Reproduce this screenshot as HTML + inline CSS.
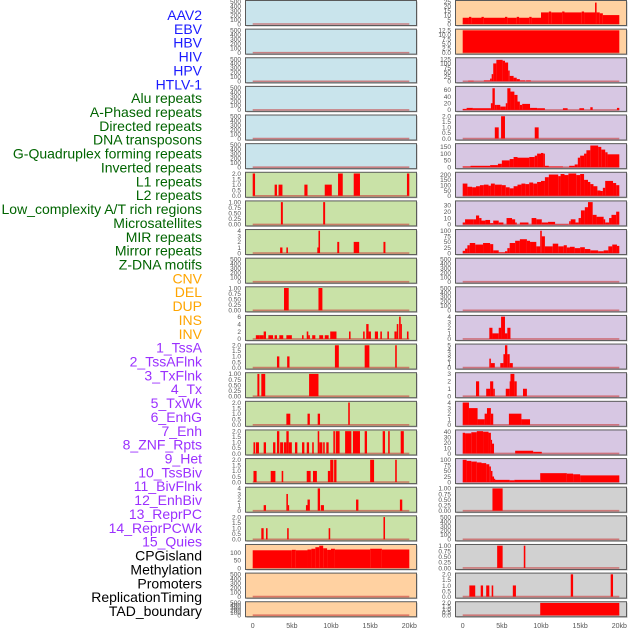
<!DOCTYPE html>
<html><head><meta charset="utf-8">
<style>
body{margin:0;background:#fff;width:630px;height:630px;overflow:hidden;font-family:"Liberation Sans",sans-serif}
svg{display:block}
</style></head>
<body>
<svg id="chart" width="630" height="630" viewBox="0 0 630 630" xmlns="http://www.w3.org/2000/svg"></svg>
<script>
// ---- labels ----
const labelNames = ["AAV2","EBV","HBV","HIV","HPV","HTLV-1","Alu repeats","A-Phased repeats","Directed repeats","DNA transposons","G-Quadruplex forming repeats","Inverted repeats","L1 repeats","L2 repeats","Low_complexity A/T rich regions","Microsatellites","MIR repeats","Mirror repeats","Z-DNA motifs","CNV","DEL","DUP","INS","INV","1_TssA","2_TssAFlnk","3_TxFlnk","4_Tx","5_TxWk","6_EnhG","7_Enh","8_ZNF_Rpts","9_Het","10_TssBiv","11_BivFlnk","12_EnhBiv","13_ReprPC","14_ReprPCWk","15_Quies","CPGisland","Methylation","Promoters","ReplicationTiming","TAD_boundary"];
const labelColors = ["#1a1aff","#006400","#ffa500","#9b30ff","#000000"];
const labelGroups = [6,13,5,15,5];

// ---- x axis ----
const xTicks = [0,5,10,15,20];
const xTickLabels = ["0","5kb","10kb","15kb","20kb"];

// ---- tracks: [startKb, endKb, value] ----
const L6 = [[0,0.3,2],[2.8,3.1,1],[3.3,3.8,1],[6.6,7,1],[9.2,10.1,1],[10.9,11.5,2],[12.9,13.7,2],[19.7,20,2]];
const L7 = [[3.6,3.85,1],[9.0,9.25,1]];
const L8 = [[3.5,3.8,1],[4.3,4.5,1],[8.25,8.4,1],[8.4,8.6,4],[10.8,11.05,2],[12.9,13.6,2],[16.7,16.95,2]];
const L10 = [[4.0,4.6,1],[8.4,8.9,1]];
const L11 = [[0.4,0.9,1],[0.9,1.4,1],[1.4,1.7,2],[2.0,2.6,1],[2.8,3.1,1],[3.4,3.9,1],[4.3,5.0,1],[6.3,6.5,1],[6.9,7.1,2],[7.1,7.3,1],[7.6,8.0,1],[8.5,9.0,1],[9.2,9.7,1],[9.9,10.7,2],[12.3,12.5,2],[14.1,14.3,2],[14.5,14.8,4],[14.8,15.1,2],[15.6,16.0,2],[16.3,16.5,2],[17.2,17.4,2],[18.1,18.4,2],[18.4,18.6,4],[18.7,18.9,6],[18.9,19.05,4],[19.7,19.9,2]];
const L12 = [[3.1,3.4,1],[4.4,4.7,1],[10.5,11.0,2],[14.3,14.9,2],[18.2,18.4,2]];
const L13 = [[0.6,0.85,1],[1.1,1.6,1],[7.2,8.4,1]];
const L14 = [[4.3,4.8,1],[7.0,7.3,1],[8.3,8.6,1],[12.2,12.4,2]];
const L15 = [[0.1,0.3,1],[0.4,0.8,1],[1.4,1.7,1],[2.6,2.9,1],[3.1,3.4,2],[3.5,3.9,1],[4.0,4.3,1],[4.3,4.6,2],[4.6,5.0,1],[5.4,5.7,1],[6.3,6.6,1],[6.9,7.2,1],[7.6,7.8,1],[8.3,8.5,2],[8.5,8.9,1],[9.0,9.2,1],[9.4,9.7,1],[10.3,10.5,2],[10.6,11.1,2],[11.8,12.6,2],[12.8,13.7,2],[14.3,14.6,2],[16.6,16.9,2],[17.3,17.5,2],[18.9,19.3,2]];
const L16 = [[0.1,0.5,1],[2.3,2.9,1],[3.7,3.9,1],[6.9,7.4,1],[7.7,8.2,1],[9.6,9.9,1],[9.9,10.3,2],[10.4,10.7,2],[15.0,15.5,2],[18.2,18.4,2]];
const L17 = [[1.4,1.7,1],[4.3,4.5,3],[4.5,4.6,1],[6.8,7.0,1],[7.0,7.3,2],[8.3,8.6,4],[8.7,9.1,1],[13.2,13.5,2],[18.8,19.1,2]];
const L18 = [[1.1,1.4,1],[1.7,1.9,1],[4.4,4.6,1],[9.7,9.9,1],[16.7,16.9,2]];
const L19 = [[0,5,115],[5,5.5,118],[5.5,7,115],[7,7.5,120],[7.5,8,125],[8,8.5,135],[8.5,9,145],[9,9.5,128],[9.5,10,118],[10,10.5,125],[10.5,15,120],[15,16.5,125],[16.5,20,120]];
const R0 = [[0,0.8,7],[0.8,1.1,8],[1.1,2.4,7],[2.4,2.7,8],[2.7,5.4,7],[5.4,5.7,8],[5.7,6.9,7],[6.9,7.2,8],[7.2,8.5,7],[8.5,8.8,8],[8.8,10,7],[10,11,13],[11,11.3,14],[11.3,12.7,13],[12.7,13,14],[13,15.2,13],[15.2,15.5,14],[15.5,16.9,13],[16.9,17.1,24],[17.1,17.5,13],[17.5,17.9,12],[17.9,20,10]];
const R1 = [[0,20,12.5]];
const R2 = [[0.7,1.4,3],[2.7,3.5,5],[3.5,3.7,15],[3.7,3.9,40],[3.9,4.3,100],[4.3,5.1,120],[5.1,5.4,115],[5.4,5.8,105],[5.8,6.0,60],[6.0,6.5,30],[6.5,6.9,20],[6.9,7.3,12],[7.3,8.0,5],[8.1,8.7,5]];
const R3 = [[0,0.5,3],[0.5,1.3,6],[1.3,3.6,5],[3.6,3.8,20],[3.8,4.1,65],[4.1,4.3,15],[4.3,4.8,15],[4.8,5.5,10],[5.5,5.7,20],[5.7,6.1,65],[6.1,6.6,55],[6.6,7.0,45],[7.0,7.3,25],[7.3,7.6,15],[7.6,8.6,18],[8.6,9.5,6],[9.5,10.5,5],[12.8,13.4,5],[14.9,15.5,5],[16.3,16.6,8],[19.7,20,6]];
const R4 = [[4.1,4.6,1],[4.9,5.4,2],[9.2,9.7,1]];
const R5 = [[0,1,5],[1,3.5,10],[3.5,4.5,15],[4.5,5,25],[5,6,50],[6,6.5,60],[6.5,7,75],[7,8.5,70],[8.5,9.2,75],[9.2,9.5,85],[9.5,10,100],[10,10.3,105],[10.3,10.5,100],[10.5,11,10],[11,12.8,5],[13.6,14.3,10],[14.3,14.7,20],[14.7,15,70],[15,15.5,85],[15.5,15.8,100],[15.8,16.3,125],[16.3,17.3,160],[17.3,17.7,150],[17.7,18.2,130],[18.2,18.5,110],[18.5,20,95]];
const R6 = [[0,0.6,115],[0.6,1.2,85],[1.2,1.7,80],[1.7,2.2,90],[2.2,2.7,100],[2.7,3.3,105],[3.3,3.6,95],[3.6,4.1,115],[4.1,5.0,105],[5.0,5.5,100],[5.5,6.0,80],[6.0,6.5,70],[6.5,7,90],[7,7.5,105],[7.5,8,115],[8,8.5,110],[8.5,9,125],[9,9.5,115],[9.5,10,130],[10,10.5,140],[10.5,11,175],[11,12.2,200],[12.2,12.5,185],[12.5,13,205],[13,13.5,195],[13.5,14.5,210],[14.5,15,195],[15,15.5,205],[15.5,16,150],[16,16.3,130],[16.3,16.7,110],[16.7,17.2,90],[17.2,17.6,50],[17.6,17.9,45],[17.9,18.2,75],[18.2,19.2,140],[19.2,19.6,120],[19.6,20,100]];
const R7 = [[0,0.3,3],[0.3,1.4,8],[1.4,1.7,8],[1.7,2.1,14],[2.1,2.4,10],[2.4,2.9,6],[2.9,3.5,7],[3.5,3.9,2],[3.9,4.6,6],[4.6,5.2,3],[5.6,6.3,10],[6.3,6.7,8],[6.7,6.9,3],[7.3,8.4,3],[8.8,9.4,10],[9.4,10.1,8],[10.1,10.9,3],[10.9,11.8,4],[11.8,13.5,0.5],[13.6,13.8,5],[13.8,14.4,8],[14.4,14.8,3],[14.8,15.1,10],[15.1,15.6,22],[15.6,16.0,27],[16.0,16.6,35],[16.6,17.1,15],[17.1,18.0,12],[18.0,18.2,8],[18.2,18.7,3],[18.7,19.0,10],[19.0,19.6,15],[19.6,20,20]];
const R8 = [[0,0.3,10],[0.3,0.6,20],[0.6,0.9,35],[0.9,1.6,45],[1.6,2.6,38],[2.6,3.5,45],[3.5,3.9,40],[3.9,4.6,12],[4.6,5.4,3],[5.4,5.7,8],[5.7,6.0,22],[6.0,6.7,45],[6.7,7.3,55],[7.3,8.2,62],[8.2,8.6,55],[8.6,9.4,50],[9.4,9.9,30],[9.9,10.1,100],[10.1,10.5,75],[10.5,11.5,30],[11.5,12.2,42],[12.2,12.9,30],[12.9,13.3,35],[13.3,13.7,25],[13.7,14.3,28],[14.3,15.0,22],[15.0,15.6,26],[15.6,16.3,18],[16.3,17.3,12],[17.3,18.0,8],[18.0,18.6,12],[18.6,19.1,30],[19.1,19.7,38],[19.7,20,32]];
const R11 = [[3.4,3.8,2],[3.8,4.6,1],[4.6,4.9,2],[4.9,5.4,4],[5.4,5.7,1],[5.7,6.1,2]];
const R12 = [[3.4,3.6,2],[3.6,4.1,1],[4.8,5.2,1],[5.2,5.4,3],[5.4,5.7,5],[5.7,6.0,3],[6.0,6.4,1]];
const R13 = [[1.7,2.1,2],[3.0,3.5,1],[3.5,3.9,2],[3.9,4.1,1],[5.5,6.0,1],[6.0,6.1,2],[6.1,6.6,3],[6.6,6.9,2],[7.7,8.2,1]];
const R14 = [[0,0.8,4],[0.8,1.9,3],[1.9,2.8,1],[2.8,3.1,2],[3.1,3.6,3],[3.6,3.9,2],[5.9,7.5,2],[7.5,8.6,1]];
const R15 = [[0,0.3,38],[0.3,1.1,37],[1.1,1.8,39],[1.8,2.6,41],[2.6,3.3,40],[3.3,3.6,38],[3.6,3.7,25],[3.7,4.0,18],[6.7,9.0,5],[9.0,10.1,3]];
const R16 = [[0,0.5,100],[0.5,1.1,95],[1.1,1.8,92],[1.8,2.4,88],[2.4,3.0,85],[3.0,3.4,80],[3.4,3.6,70],[3.6,3.8,50],[3.8,4.0,25],[4.0,4.1,15],[4.1,6.0,10],[6.0,6.6,8],[6.6,9.9,10],[9.9,13.3,40],[13.3,14.1,38],[14.1,15.0,35],[15.0,20,30]];
const R17 = [[3.8,5.1,1]];
const R19 = [[4.4,5.1,1],[7.8,8.0,1]];
const R20 = [[0.85,1.6,1],[2.3,2.6,1],[3.0,3.4,1],[3.7,3.9,1],[6.4,6.8,1],[13.8,14.1,2],[18.9,19.2,2]];
const R21 = [[9.9,20,2]];
const EMPTY = [];

// ---- y ticks ----
const T500 = [0,100,200,300,400,500];
const T2 = [0,0.5,1,1.5,2];
const T1 = [0,0.25,0.5,0.75,1];
const T4 = [0,1,2,3,4];
const T6 = [0,2,4,6];
const T3 = [0,1,2,3];
const T5 = [0,1,2,3,4,5];

// ---- panels: [column, row, data, yMax, ticks, decimals, fillKey] ----
const panels = [
 [0,0,EMPTY,500,T500,0,"b"],[0,1,EMPTY,500,T500,0,"b"],[0,2,EMPTY,500,T500,0,"b"],[0,3,EMPTY,500,T500,0,"b"],[0,4,EMPTY,500,T500,0,"b"],[0,5,EMPTY,500,T500,0,"b"],
 [0,6,L6,2,T2,1,"g"],[0,7,L7,1,T1,2,"g"],[0,8,L8,4,T4,0,"g"],[0,9,EMPTY,500,T500,0,"g"],[0,10,L10,1,T1,2,"g"],[0,11,L11,6,T6,0,"g"],[0,12,L12,2,T2,1,"g"],[0,13,L13,1,T1,2,"g"],[0,14,L14,2,T2,1,"g"],[0,15,L15,2,T2,1,"g"],[0,16,L16,2,T2,1,"g"],[0,17,L17,4,T4,0,"g"],[0,18,L18,2,T2,1,"g"],
 [0,19,L19,145,[0,50,100],0,"o"],[0,20,EMPTY,500,T500,0,"o"],[0,21,EMPTY,500,T500,0,"o"],
 [1,0,R0,25,[0,5,10,15,20,25],0,"o"],[1,1,R1,12.5,[0,2.5,5,7.5,10,12.5],1,"o"],
 [1,2,R2,125,[0,25,50,75,100,125],0,"p"],[1,3,R3,67,[0,20,40,60],0,"p"],[1,4,R4,2,T2,1,"p"],[1,5,R5,165,[0,50,100,150],0,"p"],[1,6,R6,210,[0,50,100,150,200],0,"p"],[1,7,R7,35,[0,10,20,30],0,"p"],[1,8,R8,100,[0,25,50,75,100],0,"p"],[1,9,EMPTY,500,T500,0,"p"],[1,10,EMPTY,500,T500,0,"p"],[1,11,R11,4,T4,0,"p"],[1,12,R12,5,T5,0,"p"],[1,13,R13,3,T3,0,"p"],[1,14,R14,4,T4,0,"p"],[1,15,R15,41,[0,10,20,30,40],0,"p"],[1,16,R16,100,[0,25,50,75,100],0,"p"],
 [1,17,R17,1,T1,2,"k"],[1,18,EMPTY,500,T500,0,"k"],[1,19,R19,1,T1,2,"k"],[1,20,R20,2,T2,1,"k"],[1,21,R21,2,T2,1,"k"]
];
const fills = {b:"#c9e4ec",g:"#c9e2a7",o:"#ffd1a1",p:"#d7c7e3",k:"#d1d1d1"};

const NS = "http://www.w3.org/2000/svg";
const svg = document.getElementById("chart");
function mk(tag, attrs, parent){
  const e = document.createElementNS(NS, tag);
  for (const k in attrs) e.setAttribute(k, attrs[k]);
  (parent||svg).appendChild(e);
  return e;
}
function xScale(col, kb){ return 252.7 + col*210 + kb*7.83; }
function panelTop(row){ return 0.5 + row*28.63; }
function panelH(row){ return row===21 ? 15 : 25; }
function yScale(row, yMax, v){
  const top = panelTop(row), h = panelH(row);
  const y0 = top + h - 1.5, y1 = top + 1.2;
  return y0 - (v / yMax) * (y0 - y1);
}

let li = 0;
labelGroups.forEach((n, g) => {
  for (let k = 0; k < n; k++) {
    const t = mk("text", {x:202, y:15 + li*13.86 + 5, "text-anchor":"end", "font-size":"14", fill:labelColors[g]});
    t.textContent = labelNames[li];
    
    
    li++;
  }
});

panels.forEach(p => {
  const [col,row,data,yMax,ticks,dec,fk] = p;
  const g = mk("g", {});
  
  
  const px = 245.5 + col*210, py = panelTop(row), h = panelH(row);
  mk("rect", {x:px+1, y:py+1, width:171, height:h, fill:"#bbb"}, g);
  const bg = mk("rect", {x:px, y:py, width:171, height:h, fill:fills[fk], stroke:"#5a5a5a", "stroke-width":1}, g);
  
  
  mk("line", {x1:xScale(col,0), x2:xScale(col,20), y1:yScale(row,yMax,0), y2:yScale(row,yMax,0), stroke:"rgba(200,60,60,0.6)", "stroke-width":1.6}, g);
  data.forEach(d => {
    const x0 = xScale(col,d[0]), x1 = xScale(col,d[1]);
    const yv = yScale(row,yMax,d[2]), yb = yScale(row,yMax,0);
    const r = mk("rect", {x:x0, y:yv, width:Math.max(x1-x0,1.2), height:Math.max(yb-yv,0), fill:"#ff0000"}, g);
    
    
  });
  ticks.forEach(t => {
    const tx = mk("text", {x:241 + col*210, y:yScale(row,yMax,t)+2.3, "text-anchor":"end", "font-size":"6.5", fill:"#555"}, g);
    tx.textContent = t.toFixed(dec);
    
    
  });
});

[0,1].forEach(col => {
  xTicks.forEach((v,i) => {
    const t = mk("text", {x:xScale(col,v), y:628, "text-anchor":"middle", "font-size":"7", fill:"#555"});
    t.textContent = xTickLabels[i];
    
    
  });
});
</script>
</body></html>
